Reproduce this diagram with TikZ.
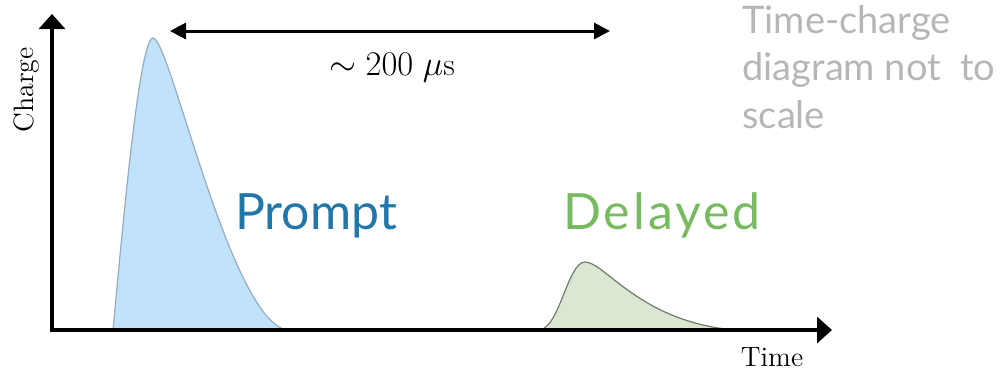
\documentclass[tikz,border=0pt]{standalone}
\usepackage{fontspec}
\usetikzlibrary{arrows.meta}
\newfontfamily\labfont{Lato}
\newfontfamily\widefont{Lato}[LetterSpace=6]
\definecolor{promptblue}{RGB}{33,118,170}
\definecolor{delgreen}{RGB}{120,186,95}
\definecolor{pfill}{RGB}{192,226,250}
\definecolor{pline}{RGB}{150,172,190}
\definecolor{dfill}{RGB}{218,232,211}
\definecolor{dline}{RGB}{110,125,105}
\definecolor{notegray}{RGB}{182,182,182}
\tikzset{
  axs/.style={line width=1.7pt, {Triangle[length=7.5pt,width=13pt]}-{Triangle[length=7.5pt,width=13pt]}},
  dim/.style={line width=1.5pt, {Triangle[length=8pt,width=8pt]}-{Triangle[length=8pt,width=8pt]}},
  alab/.style={font=\fontsize{14}{16}\selectfont, inner sep=0pt},
  plab/.style={font=\labfont\fontsize{25}{28}\selectfont, inner sep=0pt, anchor=base},
  note/.style={font=\labfont\fontsize{19}{22}\selectfont, text=notegray, inner sep=0pt, anchor=base west},
  pls/.style={line width=0.6pt}
}
\begin{document}
\begin{tikzpicture}[x=0.5pt, y=-0.5pt]
	\useasboundingbox (0,0) rectangle (1002,372);
	% pulses
	\draw[pls, draw=pline, fill=pfill] (113,330) .. controls (119,270) and (138,38) .. (153,38)
		.. controls (170,38) and (230,320) .. (287,330) -- cycle;
	\draw[pls, draw=dline, fill=dfill] (540,330) .. controls (560,326) and (568,262) .. (585,262)
		.. controls (605,262) and (640,322) .. (735,330) -- cycle;
	% axes
	\coordinate (o) at (52,330);
	\coordinate (ytip) at (52,14);
	\coordinate (xtip) at (832,330);
	\draw[axs] (ytip) -- (o) -- (xtip);
	\node[alab, rotate=90] (ylab) at (27,90) {Charge};
	\node[alab] (xlab) at (772,357) {Time};
	% time span
	\coordinate (dl) at (170,31);
	\coordinate (dr) at (610,31);
	\draw[dim] (dl) -- (dr);
	\node[font=\fontsize{16}{18}\selectfont, inner sep=0pt] (span) at (392,68) {$\sim 200\ \mu$s};
	\node[plab, text=promptblue] (prompt) at (316,229) {Prompt};
	\node[plab, font=\widefont\fontsize{25}{28}\selectfont, text=delgreen] (delayed) at (662,229) {Delayed};
	\node[note] (note1) at (742,33) {Time-charge};
	\node[note] (note2) at (742,80) {diagram not\ \ to};
	\node[note] (note3) at (742,128) {scale};
\end{tikzpicture}
\end{document}
